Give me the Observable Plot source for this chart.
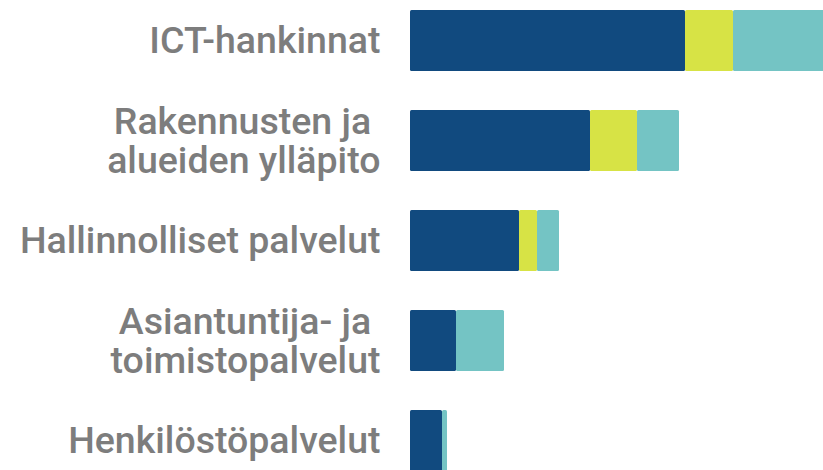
<!DOCTYPE html>
<html>
<head>
<meta charset="utf-8">
<script src="https://cdn.jsdelivr.net/npm/d3@7"></script>
<script src="https://cdn.jsdelivr.net/npm/@observablehq/plot@0.6"></script>
<style>
  html, body { margin: 0; padding: 0; background: #fff; overflow: hidden; }
</style>
</head>
<body>
<div id="chart"></div>
<script>
const categories = [
  "ICT-hankinnat",
  "Rakennusten ja\u00a0\nalueiden ylläpito",
  "Hallinnolliset palvelut",
  "Asiantuntija- ja\u00a0\ntoimistopalvelut",
  "Henkilöstöpalvelut"
];
const seriesNames = ["Sarja 1", "Sarja 2", "Sarja 3"];
const series1 = [275, 180, 109, 46, 32];
const series2 = [48, 47, 18, 0, 0];
const series3 = [100, 42, 22, 48, 5];
const colors = ["#114a7f", "#d7e345", "#74c4c4"];

const data = [];
categories.forEach((c, i) => {
  [series1, series2, series3].forEach((s, k) => {
    data.push({category: c, series: seriesNames[k], value: s[i]});
  });
});

const chart = Plot.plot({
  width: 823,
  height: 470,
  marginLeft: 410,
  marginRight: 0,
  marginTop: 0,
  marginBottom: 0,
  style: {fontFamily: "Roboto", background: "#fff"},
  x: {domain: [0, 413], axis: null},
  y: {domain: categories, range: [8, 474], paddingInner: 0.386, paddingOuter: 0, label: null},
  color: {domain: seriesNames, range: colors},
  marks: [
    Plot.barX(data, Plot.stackX({
      x: "value", y: "category", fill: "series", order: seriesNames, clip: true, rx: 1.5
    })),
    Plot.axisY({
      tickSize: 0, tickPadding: 30, fontSize: 37.5, fontWeight: 500,
      fill: "#7d7d7d", lineHeight: 1.03, label: null
    })
  ]
});
document.getElementById("chart").appendChild(chart);
</script>
</body>
</html>
